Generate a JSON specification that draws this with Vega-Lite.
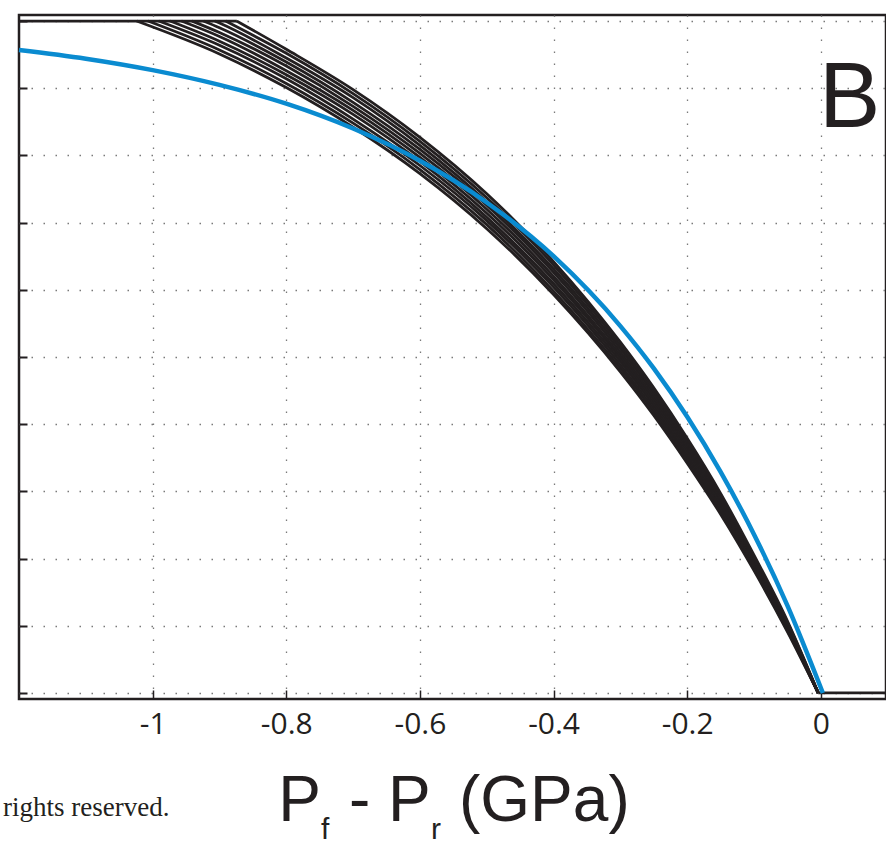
{
  "$schema": "https://vega.github.io/schema/vega-lite/v6.json",
  "width": 867,
  "height": 684,
  "autosize": "none",
  "padding": {"left": 19, "top": 15, "right": 0, "bottom": 148},
  "background": "white",
  "config": {
    "view": {"stroke": "#231f20", "strokeWidth": 2.5},
    "text": {"font": "Liberation Sans", "color": "#231f20"}
  },
  "data": {"values": [{"label": "annotation"}]},
  "datasets": {
    "black": [
      {"s": "top", "x": -1.2, "y": 1}, {"s": "top", "x": -0.874, "y": 1},
      {"s": "bottom", "x": -0.004, "y": 0}, {"s": "bottom", "x": 0.0975, "y": 0},
      {"s": "c0", "x": -1.024, "y": 1}, {"s": "c0", "x": -0.9, "y": 0.951}, {"s": "c0", "x": -0.8, "y": 0.901}, {"s": "c0", "x": -0.7, "y": 0.842}, {"s": "c0", "x": -0.6, "y": 0.773}, {"s": "c0", "x": -0.5, "y": 0.691}, {"s": "c0", "x": -0.4, "y": 0.593}, {"s": "c0", "x": -0.3, "y": 0.478}, {"s": "c0", "x": -0.25, "y": 0.413}, {"s": "c0", "x": -0.2, "y": 0.342}, {"s": "c0", "x": -0.15, "y": 0.266}, {"s": "c0", "x": -0.1, "y": 0.182}, {"s": "c0", "x": -0.05, "y": 0.091}, {"s": "c0", "x": -0.004, "y": 0},
      {"s": "c1", "x": -1.007, "y": 1}, {"s": "c1", "x": -0.9, "y": 0.957}, {"s": "c1", "x": -0.8, "y": 0.907}, {"s": "c1", "x": -0.7, "y": 0.848}, {"s": "c1", "x": -0.6, "y": 0.779}, {"s": "c1", "x": -0.5, "y": 0.697}, {"s": "c1", "x": -0.4, "y": 0.598}, {"s": "c1", "x": -0.3, "y": 0.483}, {"s": "c1", "x": -0.25, "y": 0.418}, {"s": "c1", "x": -0.2, "y": 0.346}, {"s": "c1", "x": -0.15, "y": 0.269}, {"s": "c1", "x": -0.1, "y": 0.185}, {"s": "c1", "x": -0.05, "y": 0.093}, {"s": "c1", "x": -0.004, "y": 0},
      {"s": "c2", "x": -0.991, "y": 1}, {"s": "c2", "x": -0.9, "y": 0.964}, {"s": "c2", "x": -0.8, "y": 0.914}, {"s": "c2", "x": -0.7, "y": 0.854}, {"s": "c2", "x": -0.6, "y": 0.785}, {"s": "c2", "x": -0.5, "y": 0.703}, {"s": "c2", "x": -0.4, "y": 0.604}, {"s": "c2", "x": -0.3, "y": 0.488}, {"s": "c2", "x": -0.25, "y": 0.422}, {"s": "c2", "x": -0.2, "y": 0.350}, {"s": "c2", "x": -0.15, "y": 0.273}, {"s": "c2", "x": -0.1, "y": 0.187}, {"s": "c2", "x": -0.05, "y": 0.095}, {"s": "c2", "x": -0.004, "y": 0},
      {"s": "c3", "x": -0.974, "y": 1}, {"s": "c3", "x": -0.9, "y": 0.970}, {"s": "c3", "x": -0.8, "y": 0.920}, {"s": "c3", "x": -0.7, "y": 0.861}, {"s": "c3", "x": -0.6, "y": 0.791}, {"s": "c3", "x": -0.5, "y": 0.708}, {"s": "c3", "x": -0.4, "y": 0.609}, {"s": "c3", "x": -0.3, "y": 0.493}, {"s": "c3", "x": -0.25, "y": 0.427}, {"s": "c3", "x": -0.2, "y": 0.354}, {"s": "c3", "x": -0.15, "y": 0.276}, {"s": "c3", "x": -0.1, "y": 0.190}, {"s": "c3", "x": -0.05, "y": 0.096}, {"s": "c3", "x": -0.004, "y": 0},
      {"s": "c4", "x": -0.957, "y": 1}, {"s": "c4", "x": -0.9, "y": 0.977}, {"s": "c4", "x": -0.8, "y": 0.926}, {"s": "c4", "x": -0.7, "y": 0.867}, {"s": "c4", "x": -0.6, "y": 0.797}, {"s": "c4", "x": -0.5, "y": 0.714}, {"s": "c4", "x": -0.4, "y": 0.615}, {"s": "c4", "x": -0.3, "y": 0.498}, {"s": "c4", "x": -0.25, "y": 0.431}, {"s": "c4", "x": -0.2, "y": 0.358}, {"s": "c4", "x": -0.15, "y": 0.280}, {"s": "c4", "x": -0.1, "y": 0.192}, {"s": "c4", "x": -0.05, "y": 0.098}, {"s": "c4", "x": -0.004, "y": 0},
      {"s": "c5", "x": -0.941, "y": 1}, {"s": "c5", "x": -0.9, "y": 0.983}, {"s": "c5", "x": -0.8, "y": 0.933}, {"s": "c5", "x": -0.7, "y": 0.873}, {"s": "c5", "x": -0.6, "y": 0.803}, {"s": "c5", "x": -0.5, "y": 0.720}, {"s": "c5", "x": -0.4, "y": 0.620}, {"s": "c5", "x": -0.3, "y": 0.502}, {"s": "c5", "x": -0.25, "y": 0.436}, {"s": "c5", "x": -0.2, "y": 0.363}, {"s": "c5", "x": -0.15, "y": 0.283}, {"s": "c5", "x": -0.1, "y": 0.195}, {"s": "c5", "x": -0.05, "y": 0.100}, {"s": "c5", "x": -0.004, "y": 0},
      {"s": "c6", "x": -0.924, "y": 1}, {"s": "c6", "x": -0.9, "y": 0.990}, {"s": "c6", "x": -0.8, "y": 0.939}, {"s": "c6", "x": -0.7, "y": 0.879}, {"s": "c6", "x": -0.6, "y": 0.809}, {"s": "c6", "x": -0.5, "y": 0.726}, {"s": "c6", "x": -0.4, "y": 0.626}, {"s": "c6", "x": -0.3, "y": 0.507}, {"s": "c6", "x": -0.25, "y": 0.440}, {"s": "c6", "x": -0.2, "y": 0.367}, {"s": "c6", "x": -0.15, "y": 0.287}, {"s": "c6", "x": -0.1, "y": 0.197}, {"s": "c6", "x": -0.05, "y": 0.102}, {"s": "c6", "x": -0.004, "y": 0},
      {"s": "c7", "x": -0.907, "y": 1}, {"s": "c7", "x": -0.9, "y": 0.997}, {"s": "c7", "x": -0.8, "y": 0.945}, {"s": "c7", "x": -0.7, "y": 0.886}, {"s": "c7", "x": -0.6, "y": 0.815}, {"s": "c7", "x": -0.5, "y": 0.731}, {"s": "c7", "x": -0.4, "y": 0.631}, {"s": "c7", "x": -0.3, "y": 0.512}, {"s": "c7", "x": -0.25, "y": 0.445}, {"s": "c7", "x": -0.2, "y": 0.371}, {"s": "c7", "x": -0.15, "y": 0.290}, {"s": "c7", "x": -0.1, "y": 0.200}, {"s": "c7", "x": -0.05, "y": 0.103}, {"s": "c7", "x": -0.004, "y": 0},
      {"s": "c8", "x": -0.891, "y": 1}, {"s": "c8", "x": -0.8, "y": 0.952}, {"s": "c8", "x": -0.7, "y": 0.892}, {"s": "c8", "x": -0.6, "y": 0.821}, {"s": "c8", "x": -0.5, "y": 0.737}, {"s": "c8", "x": -0.4, "y": 0.637}, {"s": "c8", "x": -0.3, "y": 0.517}, {"s": "c8", "x": -0.25, "y": 0.449}, {"s": "c8", "x": -0.2, "y": 0.375}, {"s": "c8", "x": -0.15, "y": 0.294}, {"s": "c8", "x": -0.1, "y": 0.202}, {"s": "c8", "x": -0.05, "y": 0.105}, {"s": "c8", "x": -0.004, "y": 0},
      {"s": "c9", "x": -0.874, "y": 1}, {"s": "c9", "x": -0.8, "y": 0.958}, {"s": "c9", "x": -0.7, "y": 0.898}, {"s": "c9", "x": -0.6, "y": 0.827}, {"s": "c9", "x": -0.5, "y": 0.743}, {"s": "c9", "x": -0.4, "y": 0.642}, {"s": "c9", "x": -0.3, "y": 0.522}, {"s": "c9", "x": -0.25, "y": 0.454}, {"s": "c9", "x": -0.2, "y": 0.379}, {"s": "c9", "x": -0.15, "y": 0.297}, {"s": "c9", "x": -0.1, "y": 0.205}, {"s": "c9", "x": -0.05, "y": 0.107}, {"s": "c9", "x": -0.004, "y": 0}
    ],
    "blue": [
      {"x": -1.2, "y": 0.957}, {"x": -1.1, "y": 0.944}, {"x": -1.0, "y": 0.927}, {"x": -0.9, "y": 0.905},
      {"x": -0.8, "y": 0.877}, {"x": -0.7, "y": 0.840}, {"x": -0.6, "y": 0.792}, {"x": -0.5, "y": 0.730},
      {"x": -0.4, "y": 0.650}, {"x": -0.3, "y": 0.546}, {"x": -0.25, "y": 0.483}, {"x": -0.2, "y": 0.411},
      {"x": -0.15, "y": 0.329}, {"x": -0.1, "y": 0.236}, {"x": -0.05, "y": 0.130}, {"x": 0.003, "y": 0}
    ]
  },
  "layer": [
    {
      "data": {"name": "black"},
      "mark": {"type": "line", "color": "#231f20", "strokeWidth": 2.8, "interpolate": "monotone"},
      "encoding": {
        "x": {
          "field": "x", "type": "quantitative",
          "scale": {"domain": [-1.2, 0.0975], "nice": false, "zero": false},
          "axis": {
            "title": null, "values": [-1, -0.8, -0.6, -0.4, -0.2, 0],
            "labelExpr": "datum.value == 0 ? '0' : '-' + format(-datum.value, '~g')",
            "domain": false, "ticks": true, "tickSize": -9, "tickWidth": 1.5, "tickColor": "#231f20",
            "grid": true, "gridDash": [1.5, 10.5], "gridColor": "#7a7a7a", "gridWidth": 1.3,
            "labelFont": "Open Sans", "labelFontSize": 30, "labelColor": "#231f20",
            "labelBaseline": "alphabetic", "labelPadding": 43, "labelDx": -3,
            "labelFlush": false, "labelOverlap": false
          }
        },
        "y": {
          "field": "y", "type": "quantitative",
          "scale": {"domain": [-0.009, 1.009], "nice": false, "zero": false},
          "axis": {
            "title": null, "values": [0, 0.1, 0.2, 0.3, 0.4, 0.5, 0.6, 0.7, 0.8, 0.9, 1],
            "labels": false, "domain": false, "ticks": true, "tickSize": -8, "tickWidth": 2, "tickColor": "#231f20",
            "grid": true, "gridDash": [1.5, 10.5], "gridColor": "#7a7a7a", "gridWidth": 1.3
          }
        },
        "detail": {"field": "s", "type": "nominal"}
      }
    },
    {
      "data": {"name": "blue"},
      "mark": {"type": "line", "color": "#0a8bd0", "strokeWidth": 4.5, "interpolate": "monotone"},
      "encoding": {
        "x": {"field": "x", "type": "quantitative", "scale": {"domain": [-1.2, 0.0975], "nice": false, "zero": false}},
        "y": {"field": "y", "type": "quantitative", "scale": {"domain": [-0.009, 1.009], "nice": false, "zero": false}}
      }
    },
    {
      "mark": {"type": "text", "text": "B", "fontSize": 92, "align": "left", "baseline": "alphabetic"},
      "encoding": {"x": {"datum": -0.0028, "type": "quantitative"}, "y": {"datum": 0.8423, "type": "quantitative"}}
    },
    {
      "mark": {"type": "text", "text": "P", "fontSize": 64, "align": "left", "baseline": "alphabetic"},
      "encoding": {"x": {"datum": -0.812, "type": "quantitative"}, "y": {"datum": -0.1906, "type": "quantitative"}}
    },
    {
      "mark": {"type": "text", "text": "f", "fontSize": 30, "align": "left", "baseline": "alphabetic"},
      "encoding": {"x": {"datum": -0.748, "type": "quantitative"}, "y": {"datum": -0.2174, "type": "quantitative"}}
    },
    {
      "mark": {"type": "text", "text": "- P", "fontSize": 64, "align": "left", "baseline": "alphabetic"},
      "encoding": {"x": {"datum": -0.7061, "type": "quantitative"}, "y": {"datum": -0.1906, "type": "quantitative"}}
    },
    {
      "mark": {"type": "text", "text": "r", "fontSize": 30, "align": "left", "baseline": "alphabetic"},
      "encoding": {"x": {"datum": -0.5834, "type": "quantitative"}, "y": {"datum": -0.2174, "type": "quantitative"}}
    },
    {
      "mark": {"type": "text", "text": "(GPa)", "fontSize": 64, "align": "left", "baseline": "alphabetic"},
      "encoding": {"x": {"datum": -0.5415, "type": "quantitative"}, "y": {"datum": -0.1906, "type": "quantitative"}}
    },
    {
      "mark": {"type": "text", "text": "rights reserved.", "font": "Liberation Serif", "fontSize": 27, "align": "left", "baseline": "alphabetic"},
      "encoding": {"x": {"datum": -1.224, "type": "quantitative"}, "y": {"datum": -0.183, "type": "quantitative"}}
    }
  ]
}
